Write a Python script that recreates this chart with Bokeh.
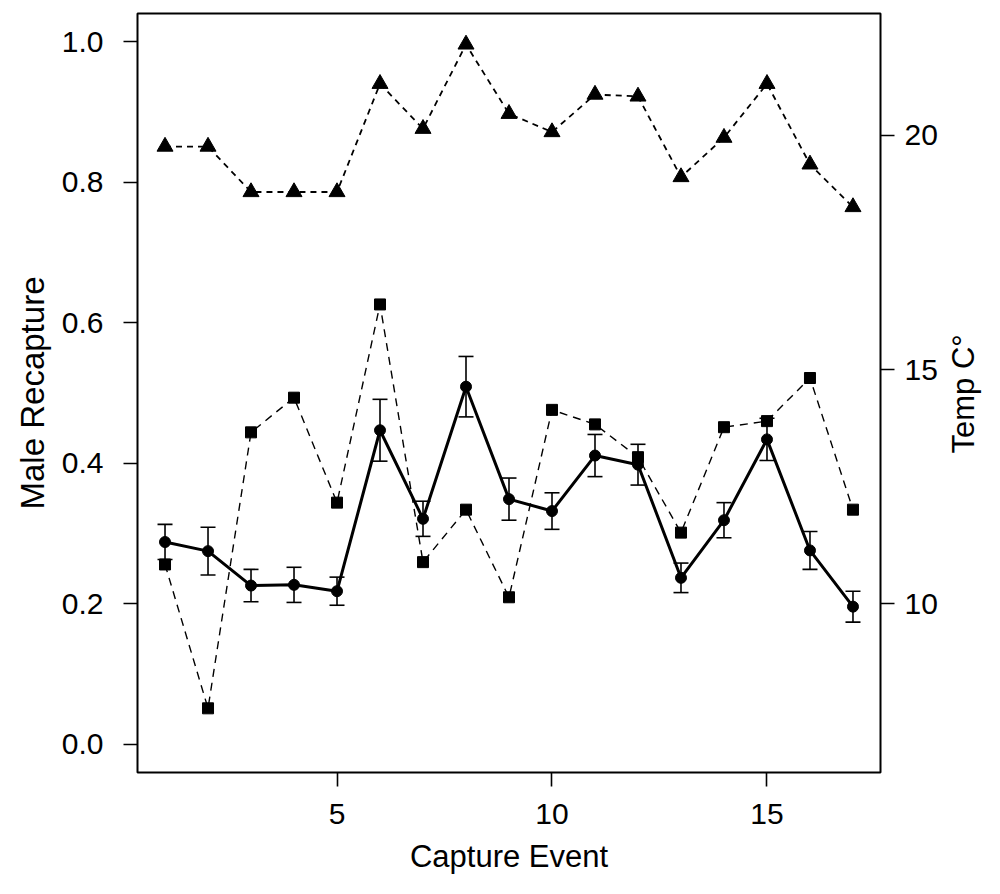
import math
from bokeh.plotting import figure
from bokeh.layouts import row
from bokeh.models import (Range1d, LinearAxis, FixedTicker, Whisker,
                          ColumnDataSource, TeeHead, NumeralTickFormatter)
from bokeh.core.properties import value
from bokeh.embed import file_html
from bokeh.resources import INLINE

# ---------------- data ----------------
events = list(range(1, 18))
male_recapture = [0.288, 0.275, 0.226, 0.227, 0.218, 0.447, 0.321, 0.509, 0.349,
                  0.332, 0.411, 0.398, 0.237, 0.319, 0.434, 0.276, 0.196]
male_err = [0.025, 0.034, 0.023, 0.025, 0.020, 0.044, 0.025, 0.043, 0.030,
            0.026, 0.030, 0.029, 0.021, 0.025, 0.030, 0.027, 0.022]
temp_max = [19.76, 19.76, 18.79, 18.79, 18.79, 21.10, 20.14, 21.94, 20.46,
            20.07, 20.87, 20.83, 19.11, 19.95, 21.10, 19.38, 18.47]
temp_min = [10.84, 7.77, 13.66, 14.40, 12.16, 16.39, 10.89, 12.01, 10.14,
            14.14, 13.83, 13.13, 11.52, 13.77, 13.90, 14.82, 12.01]

x_ticks = [5, 10, 15]
left_ticks = [0.0, 0.2, 0.4, 0.6, 0.8, 1.0]
right_ticks = [10, 15, 20]

x_label = "Capture Event"
y_label = "Male Recapture"
y2_label = "Temp C°"

FONT = "Liberation Sans"
TICK_SIZE = "30px"
TITLE_SIZE = "31px"

MAIN_W, SIDE_W, H = 942, 42, 878

p = figure(width=MAIN_W, height=H, output_backend="svg", toolbar_location=None,
           x_range=Range1d(0.36, 17.64), y_range=Range1d(-0.04, 1.04),
           min_border_left=137, min_border_right=MAIN_W - 880, min_border_top=13,
           min_border_bottom=106, background_fill_color="white",
           border_fill_color="white")
p.extra_y_ranges = {"temp": Range1d(6.4, 22.6)}
p.grid.visible = False
p.outline_line_color = "black"
p.outline_line_width = 2

right_axis = LinearAxis(y_range_name="temp")
p.add_layout(right_axis, "right")

for ax, ticks in ((p.xaxis[0], x_ticks), (p.yaxis[0], left_ticks), (right_axis, right_ticks)):
    ax.ticker = FixedTicker(ticks=ticks)
    ax.axis_line_color = None
    ax.major_tick_out = 14
    ax.major_tick_in = 0
    ax.major_tick_line_color = "black"
    ax.major_tick_line_width = 1.6
    ax.minor_tick_line_color = None
    ax.major_label_text_font = FONT
    ax.major_label_text_font_size = TICK_SIZE
    ax.major_label_text_color = "black"
    ax.axis_label_text_font = FONT
    ax.axis_label_text_font_size = TITLE_SIZE
    ax.axis_label_text_font_style = "normal"
    ax.axis_label_text_color = "black"

p.yaxis[0].formatter = NumeralTickFormatter(format="0.0")

p.xaxis[0].axis_label = x_label
p.xaxis[0].major_label_standoff = 17
p.xaxis[0].axis_label_standoff = 12

p.yaxis[0].axis_label = y_label
p.yaxis[0].axis_label_text_font_size = "33px"
p.yaxis[0].major_label_standoff = 20
p.yaxis[0].axis_label_standoff = 8

right_axis.axis_label = None
right_axis.major_label_standoff = 10

src = ColumnDataSource(dict(x=events, y=male_recapture,
                            upper=[m + e for m, e in zip(male_recapture, male_err)],
                            lower=[m - e for m, e in zip(male_recapture, male_err)],
                            tmax=temp_max, tmin=temp_min))

# temperature series (right axis)
p.line("x", "tmax", source=src, y_range_name="temp", line_color="black",
       line_width=1.8, line_dash="6 5")
p.line("x", "tmin", source=src, y_range_name="temp", line_color="black",
       line_width=1.4, line_dash="8 6")
p.scatter("x", "tmax", source=src, y_range_name="temp", marker="triangle",
          size=16, fill_color="black", line_color="black")
p.scatter("x", "tmin", source=src, y_range_name="temp", marker="square",
          size=11, fill_color="black", line_color="black")

# male recapture (left axis)
p.add_layout(Whisker(source=src, base="x", upper="upper", lower="lower",
                     line_color="black", line_width=1.6,
                     upper_head=TeeHead(size=15, line_color="black", line_width=1.6),
                     lower_head=TeeHead(size=15, line_color="black", line_width=1.6)))
p.line("x", "y", source=src, line_color="black", line_width=3)
p.scatter("x", "y", source=src, marker="circle", size=11,
          fill_color="black", line_color="black")

# right-hand axis title, read bottom to top, in a thin side panel
side = figure(width=SIDE_W, height=H, output_backend="svg", toolbar_location=None,
              x_range=Range1d(0, SIDE_W), y_range=Range1d(0, H),
              min_border=0, min_border_left=0, min_border_right=0,
              min_border_top=0, min_border_bottom=0,
              background_fill_color="white", border_fill_color="white")
side.axis.visible = False
side.grid.visible = False
side.outline_line_color = None
side.text(x=[SIDE_W / 2], y=[H - 440], text=[y2_label], angle=math.pi / 2,
          text_align="center", text_baseline="middle",
          text_font=value(FONT), text_font_size=value(TITLE_SIZE),
          text_color="black")

layout = row(p, side, spacing=0)
open("out.html", "w").write(file_html(layout, INLINE))
